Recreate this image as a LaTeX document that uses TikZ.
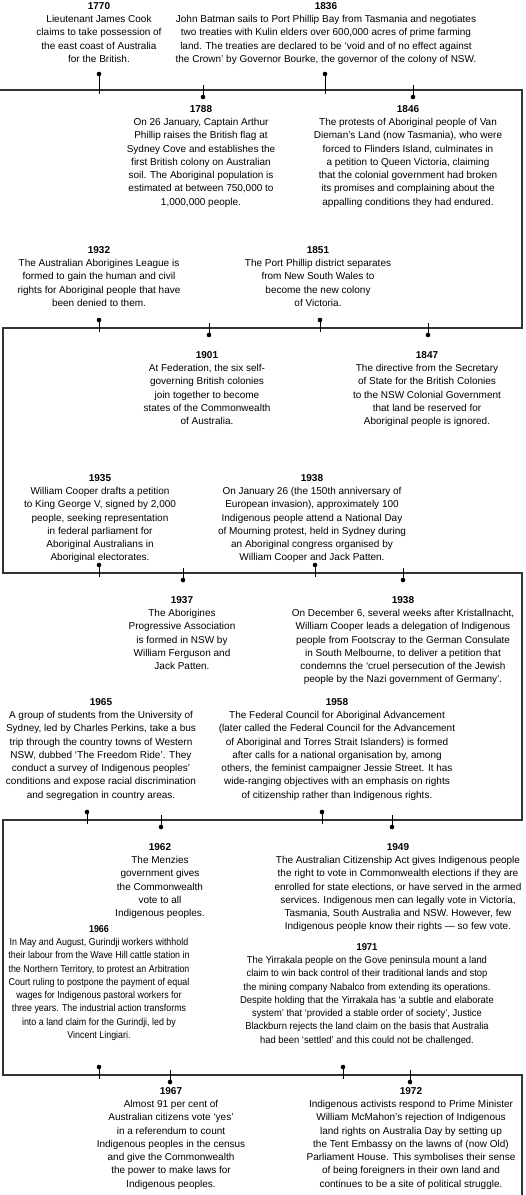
\documentclass[tikz,border=0pt]{standalone}
\usepackage{fontspec}
\setmainfont{Liberation Sans}
\newfontfamily\slimfont{Liberation Sans}[FakeStretch=0.89]
\newfontfamily\trimfont{Liberation Sans}[FakeStretch=0.94]
\usetikzlibrary{calc}
\tikzset{
  evt/.style={anchor=north, align=center, inner sep=0pt, font=\fontsize{10}{13.3}\selectfont},
  slim/.style={font=\fontsize{10}{13.3}\slimfont},
  trim/.style={font=\fontsize{10}{13.3}\trimfont},
  dot/.style={circle, fill=black, inner sep=0pt, minimum size=4.6pt},
  stem/.style={line width=1pt},
  tline/.style={draw=black!80, line width=1.3pt},
}

\begin{document}
\begin{tikzpicture}[x=1pt, y=-1pt]
  \useasboundingbox (0,0) rectangle (526,1195);
  % the winding time line
  \coordinate (a0) at (0,90);    \coordinate (a1) at (522,90);
  \coordinate (b1) at (522,328); \coordinate (b0) at (3,328);
  \coordinate (c0) at (3,573);   \coordinate (c1) at (522,573);
  \coordinate (d1) at (522,820); \coordinate (d0) at (3,820);
  \coordinate (g0) at (3,1075);  \coordinate (g1) at (522,1075);
  \coordinate (h1) at (522,1195);
  \draw[tline] (a0) -- (a1) -- (b1) -- (b0) -- (c0) -- (c1) -- (d1) -- (d0) -- (g0) -- (g1) -- (h1);
  % stem ends just over and under each line
  \coordinate (aU) at (0,94);   \coordinate (aO) at (0,85);
  \coordinate (bU) at (0,332);  \coordinate (bO) at (0,323);
  \coordinate (cU) at (0,577);  \coordinate (cO) at (0,568);
  \coordinate (dU) at (0,824);  \coordinate (dO) at (0,815);
  \coordinate (gU) at (0,1079); \coordinate (gO) at (0,1070);

  % row 1
  \node[evt] (e1770) at (99,2) {\textbf{1770}\\ Lieutenant James Cook\\ claims to take possession of\\ the east coast of Australia\\ for the British.};
  \node[evt] (e1836) at (326,2) {\textbf{1836}\\ John Batman sails to Port Phillip Bay from Tasmania and negotiates\\ two treaties with Kulin elders over 600,000 acres of prime farming\\ land. The treaties are declared to be ‘void and of no effect against\\ the Crown’ by Governor Bourke, the governor of the colony of NSW.};
  \node[dot] (k1770) at (99,74) {};  \draw[stem] (k1770.center) -- (k1770 |- aU);
  \node[dot] (k1836) at (325,74) {}; \draw[stem] (k1836.center) -- (k1836 |- aU);
  \node[dot] (k1788) at (203,97) {}; \draw[stem] (k1788 |- aO) -- (k1788.center);
  \node[dot] (k1846) at (413,97) {}; \draw[stem] (k1846 |- aO) -- (k1846.center);
  \node[evt] (e1788) at (201,105) {\textbf{1788}\\ On 26 January, Captain Arthur\\ Phillip raises the British flag at\\ Sydney Cove and establishes the\\ first British colony on Australian\\ soil. The Aboriginal population is\\ estimated at between 750,000 to\\ 1,000,000 people.};
  \node[evt] (e1846) at (408,105) {\textbf{1846}\\ The protests of Aboriginal people of Van\\ Dieman’s Land (now Tasmania), who were\\ forced to Flinders Island, culminates in\\ a petition to Queen Victoria, claiming\\ that the colonial government had broken\\ its promises and complaining about the\\ appalling conditions they had endured.};

  % row 2
  \node[evt] (e1932) at (99,246) {\textbf{1932}\\ The Australian Aborigines League is\\ formed to gain the human and civil\\ rights for Aboriginal people that have\\ been denied to them.};
  \node[evt] (e1851) at (318,246) {\textbf{1851}\\ The Port Phillip district separates\\ from New South Wales to\\ become the new colony\\ of Victoria.};
  \node[dot] (k1932) at (99,320) {};  \draw[stem] (k1932.center) -- (k1932 |- bU);
  \node[dot] (k1851) at (320,320) {}; \draw[stem] (k1851.center) -- (k1851 |- bU);
  \node[dot] (k1901) at (209,335) {}; \draw[stem] (k1901 |- bO) -- (k1901.center);
  \node[dot] (k1847) at (428,335) {}; \draw[stem] (k1847 |- bO) -- (k1847.center);
  \node[evt] (e1901) at (207,351) {\textbf{1901}\\ At Federation, the six self-\\ governing British colonies\\ join together to become\\ states of the Commonwealth\\ of Australia.};
  \node[evt] (e1847) at (427,351) {\textbf{1847}\\ The directive from the Secretary\\ of State for the British Colonies\\ to the NSW Colonial Government\\ that land be reserved for\\ Aboriginal people is ignored.};

  % row 3
  \node[evt] (e1935) at (100,474) {\textbf{1935}\\ William Cooper drafts a petition\\ to King George V, signed by 2,000\\ people, seeking representation\\ in federal parliament for\\ Aboriginal Australians in\\ Aboriginal electorates.};
  \node[evt] (e1938a) at (312,474) {\textbf{1938}\\ On January 26 (the 150th anniversary of\\ European invasion), approximately 100\\ Indigenous people attend a National Day\\ of Mourning protest, held in Sydney during\\ an Aboriginal congress organised by\\ William Cooper and Jack Patten.};
  \node[dot] (k1935) at (99,565) {};   \draw[stem] (k1935.center) -- (k1935 |- cU);
  \node[dot] (k1938a) at (315,565) {}; \draw[stem] (k1938a.center) -- (k1938a |- cU);
  \node[dot] (k1937) at (183,580) {};  \draw[stem] (k1937 |- cO) -- (k1937.center);
  \node[dot] (k1938b) at (403,580) {}; \draw[stem] (k1938b |- cO) -- (k1938b.center);
  \node[evt] (e1937) at (182,596) {\textbf{1937}\\ The Aborigines\\ Progressive Association\\ is formed in NSW by\\ William Ferguson and\\ Jack Patten.};
  \node[evt] (e1938b) at (403,596) {\textbf{1938}\\ On December 6, several weeks after Kristallnacht,\\ William Cooper leads a delegation of Indigenous\\ people from Footscray to the German Consulate\\ in South Melbourne, to deliver a petition that\\ condemns the ‘cruel persecution of the Jewish\\ people by the Nazi government of Germany’.};

  % row 4
  \node[evt] (e1965) at (101,698) {\textbf{1965}\\ A group of students from the University of\\ Sydney, led by Charles Perkins, take a bus\\ trip through the country towns of Western\\ NSW, dubbed ‘The Freedom Ride’. They\\ conduct a survey of Indigenous peoples’\\ conditions and expose racial discrimination\\ and segregation in country areas.};
  \node[evt] (e1958) at (337,698) {\textbf{1958}\\ The Federal Council for Aboriginal Advancement\\ (later called the Federal Council for the Advancement\\ of Aboriginal and Torres Strait Islanders) is formed\\ after calls for a national organisation by, among\\ others, the feminist campaigner Jessie Street. It has\\ wide-ranging objectives with an emphasis on rights\\ of citizenship rather than Indigenous rights.};
  \node[dot] (k1965) at (87,812) {};  \draw[stem] (k1965.center) -- (k1965 |- dU);
  \node[dot] (k1958) at (322,812) {}; \draw[stem] (k1958.center) -- (k1958 |- dU);
  \node[dot] (k1962) at (161,827) {}; \draw[stem] (k1962 |- dO) -- (k1962.center);
  \node[dot] (k1949) at (392,827) {}; \draw[stem] (k1949 |- dO) -- (k1949.center);
  \node[evt] (e1962) at (160,843) {\textbf{1962}\\ The Menzies\\ government gives\\ the Commonwealth\\ vote to all\\ Indigenous peoples.};
  \node[evt] (e1949) at (398,843) {\textbf{1949}\\ The Australian Citizenship Act gives Indigenous people\\ the right to vote in Commonwealth elections if they are\\ enrolled for state elections, or have served in the armed\\ services. Indigenous men can legally vote in Victoria,\\ Tasmania, South Australia and NSW. However, few\\ Indigenous people know their rights — so few vote.};

  % row 5
  \node[evt, slim] (e1966) at (99,925) {\textbf{1966}\\ In May and August, Gurindji workers withhold\\ their labour from the Wave Hill cattle station in\\ the Northern Territory, to protest an Arbitration\\ Court ruling to postpone the payment of equal\\ wages for Indigenous pastoral workers for\\ three years. The industrial action transforms\\ into a land claim for the Gurindji, led by\\ Vincent Lingiari.};
  \node[evt, trim] (e1971) at (367,943) {\textbf{1971}\\ The Yirrakala people on the Gove peninsula mount a land\\ claim to win back control of their traditional lands and stop\\ the mining company Nabalco from extending its operations.\\ Despite holding that the Yirrakala has ‘a subtle and elaborate\\ system’ that ‘provided a stable order of society’, Justice\\ Blackburn rejects the land claim on the basis that Australia\\ had been ‘settled’ and this could not be challenged.};
  \node[dot] (k1966) at (99,1067) {};  \draw[stem] (k1966.center) -- (k1966 |- gU);
  \node[dot] (k1971) at (343,1067) {}; \draw[stem] (k1971.center) -- (k1971 |- gU);
  \node[dot] (k1967) at (170,1082) {}; \draw[stem] (k1967 |- gO) -- (k1967.center);
  \node[dot] (k1972) at (410,1082) {}; \draw[stem] (k1972 |- gO) -- (k1972.center);
  \node[evt] (e1967) at (171,1087) {\textbf{1967}\\ Almost 91 per cent of\\ Australian citizens vote ‘yes’\\ in a referendum to count\\ Indigenous peoples in the census\\ and give the Commonwealth\\ the power to make laws for\\ Indigenous peoples.};
  \node[evt] (e1972) at (411,1087) {\textbf{1972}\\ Indigenous activists respond to Prime Minister\\ William McMahon’s rejection of Indigenous\\ land rights on Australia Day by setting up\\ the Tent Embassy on the lawns of (now Old)\\ Parliament House. This symbolises their sense\\ of being foreigners in their own land and\\ continues to be a site of political struggle.};
\end{tikzpicture}
\end{document}
